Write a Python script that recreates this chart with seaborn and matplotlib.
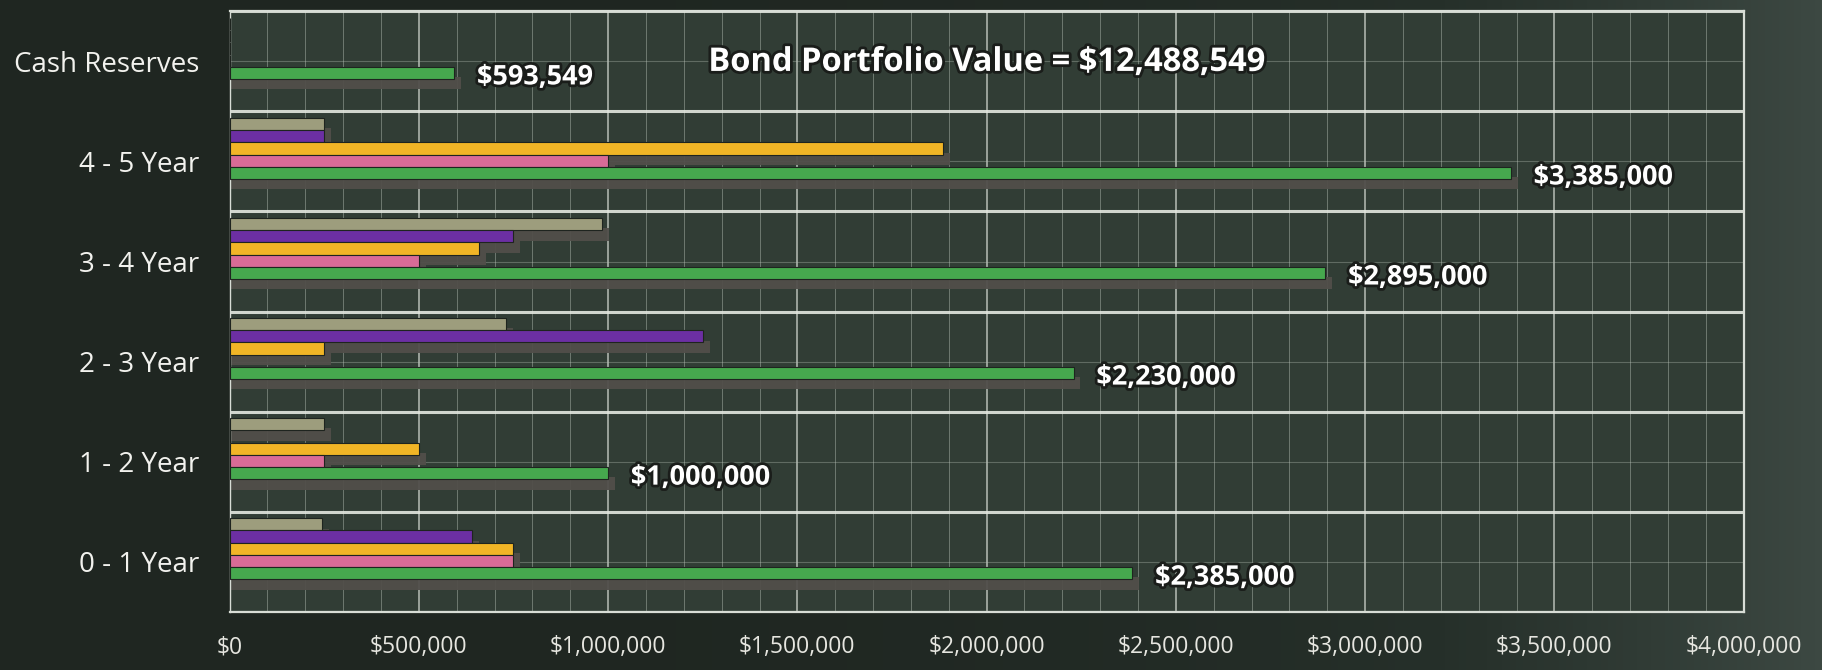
import numpy as np
import pandas as pd
import matplotlib
matplotlib.use("Agg")
import matplotlib.pyplot as plt
import matplotlib.patheffects as pe
from matplotlib.patches import Rectangle
from matplotlib.ticker import MultipleLocator, FixedLocator, FuncFormatter
import seaborn as sns

# ---------------- data ----------------
categories = ["Cash Reserves", "4 - 5 Year", "3 - 4 Year", "2 - 3 Year", "1 - 2 Year", "0 - 1 Year"]
series_names = ["Series E", "Series D", "Series C", "Series B", "Total"]
series_e = [0, 250000, 985000, 730000, 250000, 245000]        # olive gray
series_d = [0, 250000, 750000, 1250000, 0, 640000]           # purple
series_c = [0, 1885000, 660000, 250000, 500000, 750000]      # yellow
series_b = [0, 1000000, 500000, 0, 250000, 750000]           # pink
totals = [593549, 3385000, 2895000, 2230000, 1000000, 2385000]  # green
title_text = "Bond Portfolio Value = $12,488,549"
xticks_vals = [0, 500000, 1000000, 1500000, 2000000, 2500000, 3000000, 3500000, 4000000]

colors = ["#9d9d7d", "#6c2fa3", "#f1b526", "#d96b97", "#46a84e"]

rows = []
for name, vals in zip(series_names, [series_e, series_d, series_c, series_b, totals]):
    for cat, v in zip(categories, vals):
        rows.append({"category": cat, "series": name, "value": v})
df = pd.DataFrame(rows)

# ---------------- style ----------------
sns.set_theme(style="dark")
plt.rcParams["font.family"] = ["Open Sans", "DejaVu Sans"]

fig = plt.figure(figsize=(18.22, 6.70), dpi=100, facecolor="#232a25")

# subtle background gradient (darker left, lighter right)
bg = fig.add_axes([0, 0, 1, 1], zorder=-10)
grad = np.linspace(0, 1, 256) ** 3
bg.imshow(grad[None, :], aspect="auto", cmap=matplotlib.colors.LinearSegmentedColormap.from_list(
    "bg", ["#1f2621", "#26302a", "#3c4842"]), extent=[0, 1, 0, 1])
bg.set_axis_off()

ax = fig.add_axes([0.126, 0.087, 0.831, 0.896])
ax.set_facecolor("#313d35")

sns.barplot(data=df, y="category", x="value", hue="series", order=categories,
            hue_order=series_names, palette=colors, orient="h", width=0.61,
            saturation=1, ax=ax, legend=False, zorder=3, linewidth=0.8,
            edgecolor="#1e241f")

# shadows derived from bar patches
bars = [p for p in ax.patches if isinstance(p, Rectangle) and p.get_width() > 0]
for p in bars:
    x, y = p.get_x(), p.get_y()
    w, h = p.get_width(), p.get_height()
    ax.add_patch(Rectangle((x, y + h * 0.85), w + 18000, h, facecolor="#514e4a",
                           edgecolor="none", alpha=0.95, zorder=2))

shift = 0.13
n = len(categories)
ax.set_ylim(n - 0.5 + shift, -0.5 + shift)
ax.set_xlim(0, 4000000)

# gridlines
ax.xaxis.set_major_locator(FixedLocator(xticks_vals))
ax.xaxis.set_minor_locator(MultipleLocator(100000))
ax.yaxis.set_major_locator(FixedLocator(np.arange(n) + shift))
ax.yaxis.set_minor_locator(FixedLocator(np.arange(n + 1) - 0.5 + shift))
ax.set_yticklabels(categories)
ax.xaxis.set_major_formatter(FuncFormatter(lambda v, _: f"${v:,.0f}"))

ax.grid(False)
ax.grid(True, axis="x", which="major", color="#d8ddd6", linewidth=1.1, alpha=0.8, zorder=1)
ax.grid(True, axis="x", which="minor", color="#b9c2b8", linewidth=0.7, alpha=0.45, zorder=1)
ax.grid(True, axis="y", which="major", color="#b9c2b8", linewidth=0.8, alpha=0.35, zorder=1)
ax.grid(True, axis="y", which="minor", color="#e4e8e0", linewidth=2.2, alpha=0.9, zorder=1)
ax.set_axisbelow(True)

for s in ax.spines.values():
    s.set_visible(True)
    s.set_color("#d8ddd6")
    s.set_linewidth(1.6)
ax.spines["left"].set_linewidth(1.0)

ax.tick_params(axis="both", which="both", length=0)
ax.tick_params(axis="y", labelsize=20, labelcolor="#f2f2ee", pad=22)
ax.tick_params(axis="x", labelsize=16.5, labelcolor="#e6e6e0", pad=17)
ax.set_xlabel("")
ax.set_ylabel("")

outline = [pe.withStroke(linewidth=4, foreground="#1a1d1a")]

# value labels on totals
for i, v in enumerate(totals):
    ax.text(v + 60000, i + 0.29, f"${v:,.0f}", ha="left", va="center",
            fontsize=19.5, fontweight="bold", color="white", path_effects=outline, zorder=5)

ax.text(0.5, 0.915, title_text, transform=ax.transAxes, ha="center", va="center",
        fontsize=23.5, fontweight="bold", color="white", path_effects=outline, zorder=5)

fig.savefig("out.png", dpi=100, facecolor=fig.get_facecolor())
